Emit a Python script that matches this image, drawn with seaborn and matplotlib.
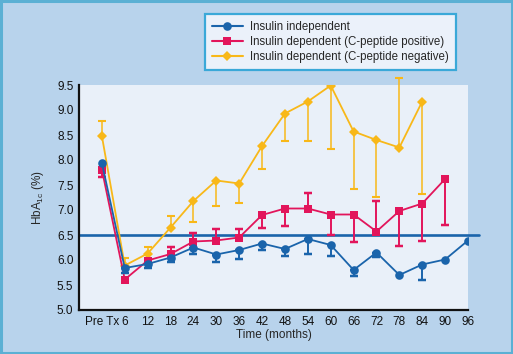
import numpy as np
import pandas as pd
import matplotlib
matplotlib.use("Agg")
import matplotlib.pyplot as plt
import seaborn as sns

nan = np.nan

TIME_LABELS = ["Pre Tx", "6", "12", "18", "24", "30", "36", "42", "48", "54",
               "60", "66", "72", "78", "84", "90", "96"]

INDEPENDENT = [7.94, 5.84, 5.92, 6.05, 6.25, 6.11, 6.20, 6.33, 6.22, 6.42,
               6.30, 5.80, 6.15, 5.70, 5.91, 6.01, 6.39]
INDEPENDENT_ERR_END = [nan, 5.75, 5.85, 5.97, 6.13, 5.97, 6.03, 6.20, 6.09, 6.13,
                       6.08, 5.68, 6.07, nan, 5.61, nan, nan]

CPEP_POS = [7.81, 5.61, 5.99, 6.12, 6.37, 6.39, 6.45, 6.90, 7.03, 7.03,
            6.91, 6.91, 6.57, 6.98, 7.13, 7.62, nan]
CPEP_POS_ERR_END = [7.66, nan, nan, 6.26, 6.55, 6.63, 6.63, 6.65, 6.69, 7.34,
                    6.50, 6.37, 7.19, 6.29, 6.38, 6.71, nan]

CPEP_NEG = [8.48, 5.89, 6.13, 6.65, 7.18, 7.59, 7.53, 8.28, 8.93, 9.17,
            9.49, 8.57, 8.40, 8.25, 9.17, nan, nan]
CPEP_NEG_ERR_END = [8.79, 6.05, 6.27, 6.88, 6.77, 7.09, 7.15, 7.82, 8.38, 8.39,
                    8.22, 7.43, 7.27, 9.65, 7.33, nan, nan]

TARGET = 6.5

SERIES = ["Insulin independent",
          "Insulin dependent (C-peptide positive)",
          "Insulin dependent (C-peptide negative)"]
COLORS = {SERIES[0]: "#1a64ab", SERIES[1]: "#e2155b", SERIES[2]: "#f8b819"}
MARKERS = {SERIES[0]: "o", SERIES[1]: "s", SERIES[2]: "D"}
MSIZE = {SERIES[0]: 6.2, SERIES[1]: 6.0, SERIES[2]: 5.2}

FIG_BG = "#b8d3ec"
AX_BG = "#e9f0f9"

sns.set_style("white")
plt.rcParams["font.family"] = ["Liberation Sans", "DejaVu Sans"]

df = pd.DataFrame({
    "time": TIME_LABELS * 3,
    "hba1c": INDEPENDENT + CPEP_POS + CPEP_NEG,
    "group": [SERIES[0]] * 17 + [SERIES[1]] * 17 + [SERIES[2]] * 17,
})

fig = plt.figure(figsize=(5.13, 3.54), dpi=100, facecolor=FIG_BG)
ax = fig.add_axes([79 / 513, 44 / 354, 389 / 513, 225 / 354])
ax.set_facecolor(AX_BG)

# target line runs a little past the plot area
ax.axhline(TARGET, xmin=0, xmax=1.028, color="#1a64ab", lw=1.9,
           clip_on=False, zorder=1.5)

# one-sided error bars
pos = np.arange(len(TIME_LABELS))
err_sets = [(CPEP_NEG, CPEP_NEG_ERR_END, SERIES[2], 2.0),
            (CPEP_POS, CPEP_POS_ERR_END, SERIES[1], 2.6),
            (INDEPENDENT, INDEPENDENT_ERR_END, SERIES[0], 3.2)]
for vals, ends, name, z in err_sets:
    vals = np.array(vals)
    ends = np.array(ends)
    ok = ~np.isnan(ends) & ~np.isnan(vals)
    lower = np.where(ends < vals, vals - ends, 0)[ok]
    upper = np.where(ends > vals, ends - vals, 0)[ok]
    lw = 1.1 if name == SERIES[2] else 1.4
    ax.errorbar(pos[ok], vals[ok], yerr=[lower, upper], fmt="none",
                ecolor=COLORS[name], elinewidth=lw, capsize=3.2,
                capthick=lw + 0.4, clip_on=False, zorder=z)

for name, z in [(SERIES[2], 2.2), (SERIES[1], 2.8), (SERIES[0], 3.4)]:
    sub = df[df["group"] == name]
    sns.lineplot(data=sub, x="time", y="hba1c", ax=ax, sort=False,
                 color=COLORS[name], marker=MARKERS[name],
                 markersize=MSIZE[name], markeredgewidth=0, lw=1.3,
                 label=name, zorder=z, legend=False)

ax.set_xlim(-1, 16)
ax.set_ylim(5.0, 9.5)
ax.set_yticks(np.arange(5.0, 9.51, 0.5))
ax.set_yticklabels([f"{v:.1f}" for v in np.arange(5.0, 9.51, 0.5)])
ax.set_xticks(pos)
ax.set_xticklabels(TIME_LABELS)

for side in ["top", "right"]:
    ax.spines[side].set_visible(False)
for side in ["left", "bottom"]:
    ax.spines[side].set_color("#111111")
    ax.spines[side].set_linewidth(1.6)
ax.tick_params(axis="both", direction="in", length=4, width=1.4,
               colors="#111111", labelsize=8.5, pad=4)

ax.set_xlabel("Time (months)", fontsize=8.5, labelpad=1)
ax.set_ylabel(r"HbA$_\mathregular{1c}$ (%)", fontsize=8.5, labelpad=8)

handles = [plt.Line2D([], [], color=COLORS[n], marker=MARKERS[n],
                      markersize=MSIZE[n], markeredgewidth=0, lw=1.5)
           for n in SERIES]
leg = fig.legend(handles, SERIES, loc="upper left",
                 bbox_to_anchor=(205 / 513, 1 - 14 / 354),
                 frameon=True, fancybox=False, fontsize=8.3,
                 handlelength=2.7, handletextpad=0.6, labelspacing=0.25,
                 borderpad=0.6, borderaxespad=0)
leg.get_frame().set_facecolor("#ebf1fa")
leg.get_frame().set_edgecolor("#3aa8d8")
leg.get_frame().set_linewidth(1.6)
leg.get_frame().set_alpha(1)

# outer border
border = plt.Rectangle((0.002, 0.003), 0.996, 0.994, transform=fig.transFigure,
                       fill=False, edgecolor="#5bb0d4", lw=2.2)
fig.patches.append(border)

fig.savefig("out.png", dpi=100, facecolor=FIG_BG)
